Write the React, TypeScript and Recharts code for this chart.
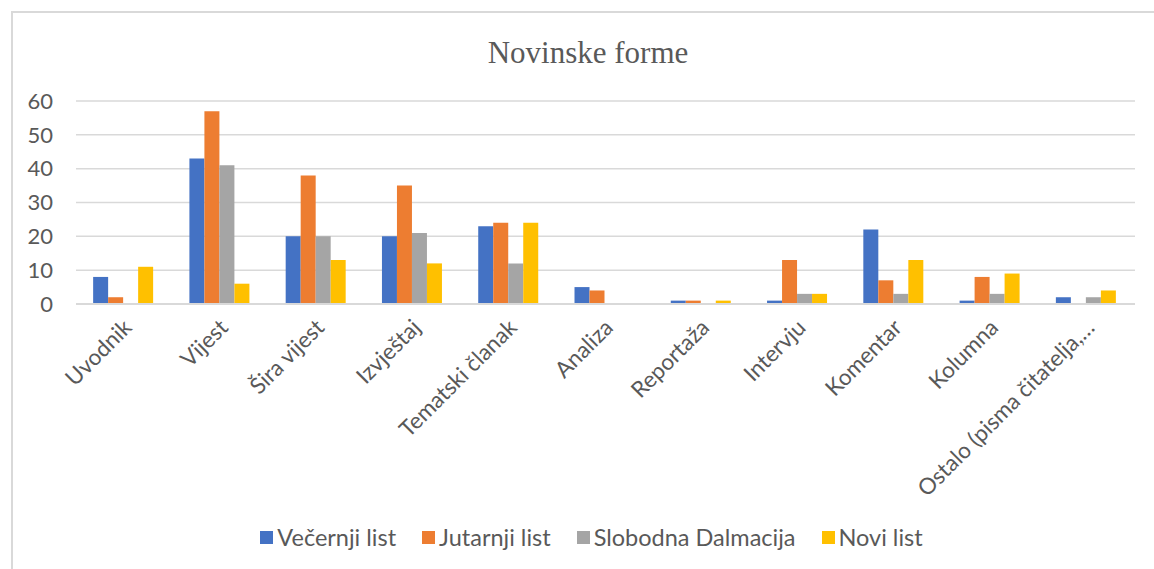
import React from 'react';
import { Bar, BarChart, CartesianGrid, Legend, XAxis, YAxis } from 'recharts';

// Kategorije i vrijednosti očitane sa slike
const categories = [
  'Uvodnik',
  'Vijest',
  'Šira vijest',
  'Izvještaj',
  'Tematski članak',
  'Analiza',
  'Reportaža',
  'Intervju',
  'Komentar',
  'Kolumna',
  'Ostalo (pisma čitatelja,…',
];
const vecernjiList = [8, 43, 20, 20, 23, 5, 1, 1, 22, 1, 2];
const jutarnjiList = [2, 57, 38, 35, 24, 4, 1, 13, 7, 8, 0];
const slobodnaDalmacija = [0, 41, 20, 21, 12, 0, 0, 3, 3, 3, 2];
const noviList = [11, 6, 13, 12, 24, 0, 1, 3, 13, 9, 4];
const yTicks = [0, 10, 20, 30, 40, 50, 60];

const SERIES = [
  { key: 'vecernji', name: 'Večernji list', color: '#4472C4' },
  { key: 'jutarnji', name: 'Jutarnji list', color: '#ED7D31' },
  { key: 'slobodna', name: 'Slobodna Dalmacija', color: '#A5A5A5' },
  { key: 'novi', name: 'Novi list', color: '#FFC000' },
];

const data = categories.map((name, i) => ({
  name,
  vecernji: vecernjiList[i],
  jutarnji: jutarnjiList[i],
  slobodna: slobodnaDalmacija[i],
  novi: noviList[i],
}));

const FONT = 'Lato, "Open Sans", sans-serif';
const TEXT = '#595959';
const GRID = '#d9d9d9';

function AngledTick({ x, y, payload }: any) {
  return (
    <g transform={`translate(${x + 9},${y + 17})`}>
      <text transform="rotate(-45)" textAnchor="end" fill={TEXT} fontSize={22.5} fontFamily={FONT}>
        {payload.value}
      </text>
    </g>
  );
}

// legenda u redoslijedu serija (recharts inače sortira po imenu)
function LegendContent({ payload }: any) {
  const order = SERIES.map((s) => s.name);
  const items = [...(payload ?? [])].sort((a: any, b: any) => order.indexOf(a.value) - order.indexOf(b.value));
  return (
    <div
      style={{
        display: 'flex',
        justifyContent: 'center',
        paddingLeft: 48,
        fontFamily: FONT,
        fontSize: 23.5,
        color: TEXT,
      }}
    >
      {items.map((p: any) => (
        <div key={p.value} style={{ display: 'flex', alignItems: 'center', margin: '0 13px' }}>
          <span style={{ width: 13, height: 13, background: p.color, marginRight: 4, display: 'inline-block' }} />
          <span>{p.value}</span>
        </div>
      ))}
    </div>
  );
}

export default function App() {
  return (
    <div style={{ position: 'fixed', left: 0, top: 0, width: 1154, height: 569, overflow: 'hidden', background: '#fff' }}>
      <div
        style={{
          position: 'absolute',
          left: 11,
          top: 11,
          width: 1200,
          height: 620,
          border: `2px solid ${GRID}`,
        }}
      />
      <div
        style={{
          position: 'absolute',
          left: 12,
          width: 1152,
          top: 35,
          textAlign: 'center',
          fontFamily: '"Liberation Serif", "Times New Roman", serif',
          fontSize: 31,
          color: TEXT,
        }}
      >
        Novinske forme
      </div>
      <div style={{ position: 'absolute', left: 0, top: 0 }}>
        <BarChart
          width={1154}
          height={569}
          data={data}
          margin={{ top: 101, right: 19, bottom: 6, left: 0 }}
          barCategoryGap="17.8%"
          barGap={0}
        >
          <CartesianGrid vertical={false} stroke={GRID} strokeWidth={1.5} />
          <XAxis
            dataKey="name"
            interval={0}
            height={219}
            tickLine={false}
            axisLine={{ stroke: GRID, strokeWidth: 2 }}
            tick={<AngledTick />}
          />
          <YAxis
            width={76}
            domain={[0, 60]}
            ticks={yTicks}
            axisLine={false}
            tickLine={false}
            tickMargin={17}
            tick={{ fill: TEXT, fontSize: 22, fontFamily: FONT }}
          />
          <Legend verticalAlign="bottom" height={40} content={<LegendContent />} />
          {SERIES.map((s) => (
            <Bar key={s.key} dataKey={s.key} name={s.name} fill={s.color} isAnimationActive={false} />
          ))}
        </BarChart>
      </div>
    </div>
  );
}
